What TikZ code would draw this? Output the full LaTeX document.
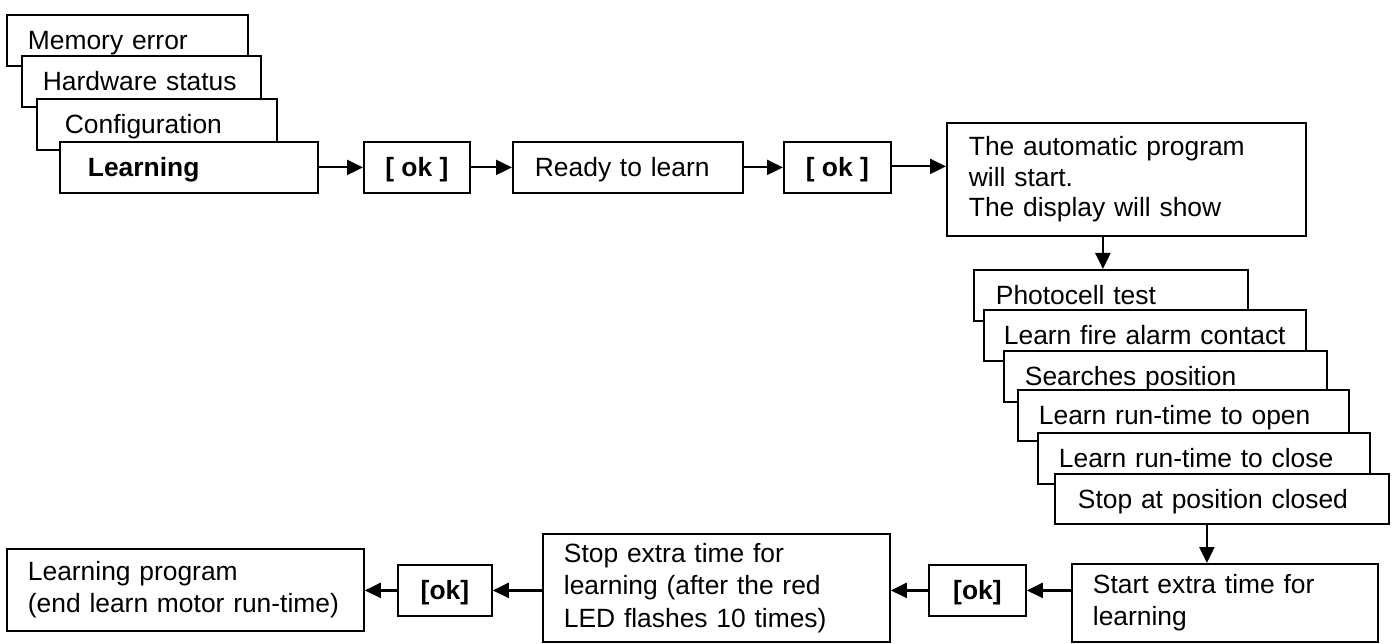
\documentclass[tikz,border=0pt]{standalone}
\usepackage{fontspec}
\setmainfont{Liberation Sans}
\usetikzlibrary{arrows.meta}
\tikzset{
  box/.style={draw, fill=white, line width=1.8pt, anchor=north west, align=left,
    inner ysep=0pt, font=\fontsize{26.4}{30.4}\selectfont},
  one/.style={text height=19pt, text depth=0pt},
  wide/.style={font=\fontsize{26.4}{32.5}\selectfont},
  okbox/.style={draw, fill=white, line width=1.8pt, anchor=north west, align=center,
    inner sep=0pt, text height=19pt, text depth=0pt, font=\fontsize{26.4}{30.4}\selectfont\bfseries},
  arr/.style={line width=2.2pt, -{Triangle[length=16pt,width=15pt]}}
}
\begin{document}
\begin{tikzpicture}[x=1pt,y=-1pt]
\useasboundingbox (0,0) rectangle (1392,644);
% top-left stack
\node[box, one, minimum width=241pt, minimum height=51pt, inner xsep=21pt, text width=199pt] (mem) at (6,14) {\mbox{Memory error}};
\node[box, one, minimum width=239pt, minimum height=51pt, inner xsep=21pt, text width=197pt] (hw) at (21,55) {\mbox{Hardware status}};
\node[box, one, minimum width=240pt, minimum height=51pt, inner xsep=28pt, text width=184pt] (cfg) at (36,98) {\mbox{Configuration}};
\node[box, one, minimum width=258pt, minimum height=51pt, inner xsep=28pt, text width=202pt] (lrn) at (59,141) {\mbox{\bfseries Learning}};
% top row
\node[okbox, minimum width=106pt, minimum height=51pt] (ok1) at (363,141) {[ ok ]};
\node[box, one, minimum width=230pt, minimum height=51pt, inner xsep=22pt, text width=186pt] (rdy) at (512,141) {\mbox{Ready to learn}};
\node[okbox, minimum width=107pt, minimum height=51pt] (ok2) at (783,141) {[ ok ]};
\node[box, minimum width=359pt, minimum height=113pt, inner xsep=22pt, text width=315pt] (big) at (946,122) {\mbox{The automatic program}\\\mbox{will start.}\\\mbox{The display will show}};
% right stack
\node[box, one, minimum width=274pt, minimum height=51pt, inner xsep=22pt, text width=230pt] (p1) at (973,269) {\mbox{Photocell test}};
\node[box, one, minimum width=322pt, minimum height=51pt, inner xsep=20pt, text width=282pt] (p2) at (983,309) {\mbox{Learn fire alarm contact}};
\node[box, one, minimum width=323pt, minimum height=51pt, inner xsep=21pt, text width=281pt] (p3) at (1003,350) {\mbox{Searches position}};
\node[box, one, minimum width=331pt, minimum height=51pt, inner xsep=21pt, text width=289pt] (p4) at (1017,389) {\mbox{Learn run-time to open}};
\node[box, one, minimum width=332pt, minimum height=51pt, inner xsep=21pt, text width=290pt] (p5) at (1037,432) {\mbox{Learn run-time to close}};
\node[box, one, minimum width=334pt, minimum height=50pt, inner xsep=23pt, text width=288pt] (p6) at (1054,473) {\mbox{Stop at position closed}};
% bottom row
\node[box, wide, minimum width=306pt, minimum height=78pt, inner xsep=21pt, text width=264pt] (start) at (1071,563) {\mbox{Start extra time for}\\\mbox{learning}};
\node[okbox, minimum width=97pt, minimum height=51pt] (ok3) at (928,564) {[ok]};
\node[box, wide, minimum width=347pt, minimum height=108pt, inner xsep=21pt, text width=305pt] (stopx) at (542,533) {\mbox{Stop extra time for}\\\mbox{learning (after the red}\\\mbox{LED flashes 10 times)}};
\node[okbox, minimum width=94pt, minimum height=51pt] (ok4) at (397,564) {[ok]};
\node[box, wide, minimum width=357pt, minimum height=82pt, inner xsep=21pt, text width=315pt] (lp) at (6,548) {\mbox{Learning program}\\\mbox{(end learn motor run-time)}};
% connectors
\draw[arr] (lrn.east) -- (ok1.west);
\draw[arr] (ok1.east) -- (rdy.west);
\draw[arr] (rdy.east) -- (ok2.west);
\draw[arr] ([yshift=1pt]ok2.east) -- ([yshift=1pt]ok2.east -| big.west);
\draw[arr] ([xshift=-8pt]p1.north |- big.south) -- ([xshift=-8pt]p1.north);
\draw[arr] ([xshift=-15pt]p6.south) -- ([xshift=-15pt]p6.south |- start.north);
\draw[arr] (ok3.east -| start.west) -- (ok3.east);
\draw[arr] (ok3.west) -- (ok3.west -| stopx.east);
\draw[arr] (ok4.east -| stopx.west) -- (ok4.east);
\draw[arr] (ok4.west) -- (ok4.west -| lp.east);
\end{tikzpicture}
\end{document}
